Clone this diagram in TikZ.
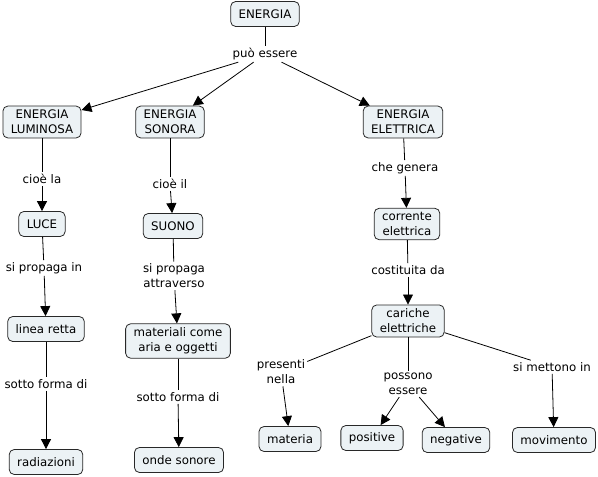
\documentclass[tikz,border=0pt]{standalone}
\usepackage{fontspec}
\setmainfont{DejaVu Sans}
\usetikzlibrary{arrows.meta}
\usepackage{xcolor}
\definecolor{conceptfill}{RGB}{236,242,245}
\definecolor{conceptline}{RGB}{40,40,40}

\tikzset{
  concept/.style={draw=conceptline, fill=conceptfill, rounded corners=5pt,
    align=center, inner xsep=8pt, inner ysep=4pt, minimum height=25pt, line width=0.8pt},
  linkword/.style={align=center, inner sep=2pt, fill=white},
  link/.style={draw=black, line width=0.8pt},
  tolink/.style={link, -{Triangle[length=10pt,width=10pt]}}
}

\begin{document}
\begin{tikzpicture}[x=1pt, y=-1pt, font=\fontsize{11.8}{15}\selectfont]
  \useasboundingbox (0,0) rectangle (598,477);
  % concepts
  \node[concept] (energia) at (265,14) {ENERGIA};
  \node[concept] (lum) at (42,122) {ENERGIA\\LUMINOSA};
  \node[concept] (son) at (170,122) {ENERGIA\\SONORA};
  \node[concept] (ele) at (403,122) {ENERGIA\\ELETTRICA};
  \node[concept] (luce) at (42,224) {LUCE};
  \node[concept] (suono) at (173,226) {SUONO};
  \node[concept] (corr) at (407,224) {corrente\\elettrica};
  \node[concept] (retta) at (46,329) {linea retta};
  \node[concept] (mat) at (178,341) {materiali come\\aria e oggetti};
  \node[concept] (car) at (408,321) {cariche\\elettriche};
  \node[concept] (rad) at (46,462) {radiazioni};
  \node[concept] (onde) at (179,460) {onde sonore};
  \node[concept] (materia) at (290,439) {materia};
  \node[concept] (pos) at (372,438) {positive};
  \node[concept] (neg) at (456,440) {negative};
  \node[concept] (mov) at (554,440) {movimento};
  % linking words
  \node[linkword] (puo) at (265,54) {può essere};
  \node[linkword] (ciola) at (42,179) {cioè la};
  \node[linkword] (cioil) at (170,184) {cioè il};
  \node[linkword] (genera) at (405,168) {che genera};
  \node[linkword] (propin) at (44,268) {si propaga in};
  \node[linkword] (propattr) at (174,276) {si propaga\\attraverso};
  \node[linkword] (costit) at (408,270) {costituita da};
  \node[linkword] (formaA) at (46,384) {sotto forma di};
  \node[linkword] (formaB) at (178,397) {sotto forma di};
  \node[linkword] (presenti) at (281,372) {presenti\\nella};
  \node[linkword] (possono) at (408,384) {possono\\essere};
  \node[linkword] (mettono) at (552,367) {si mettono in};
  % connections
  \draw[link] (energia) -- (puo);
  \draw[tolink] (puo) -- (lum);
  \draw[tolink] (puo) -- (son);
  \draw[tolink] (puo) -- (ele);
  \draw[link] (lum) -- (ciola);
  \draw[tolink] (ciola) -- (luce);
  \draw[link] (son) -- (cioil);
  \draw[tolink] (cioil) -- (suono);
  \draw[link] (ele) -- (genera);
  \draw[tolink] (genera) -- (corr);
  \draw[link] (luce) -- (propin);
  \draw[tolink] (propin) -- (retta);
  \draw[link] (suono) -- (propattr);
  \draw[tolink] (propattr) -- (mat);
  \draw[link] (corr) -- (costit);
  \draw[tolink] (costit) -- (car);
  \draw[link] (retta) -- (formaA);
  \draw[tolink] (formaA) -- (rad);
  \draw[link] (mat) -- (formaB);
  \draw[tolink] (formaB) -- (onde);
  \draw[link] (car) -- (presenti);
  \draw[tolink] (presenti) -- (materia);
  \draw[link] (car) -- (possono);
  \draw[tolink] (possono) -- (pos);
  \draw[tolink] (possono) -- (neg);
  \draw[link] (car) -- (mettono);
  \draw[tolink] (mettono) -- (mov);
\end{tikzpicture}
\end{document}
